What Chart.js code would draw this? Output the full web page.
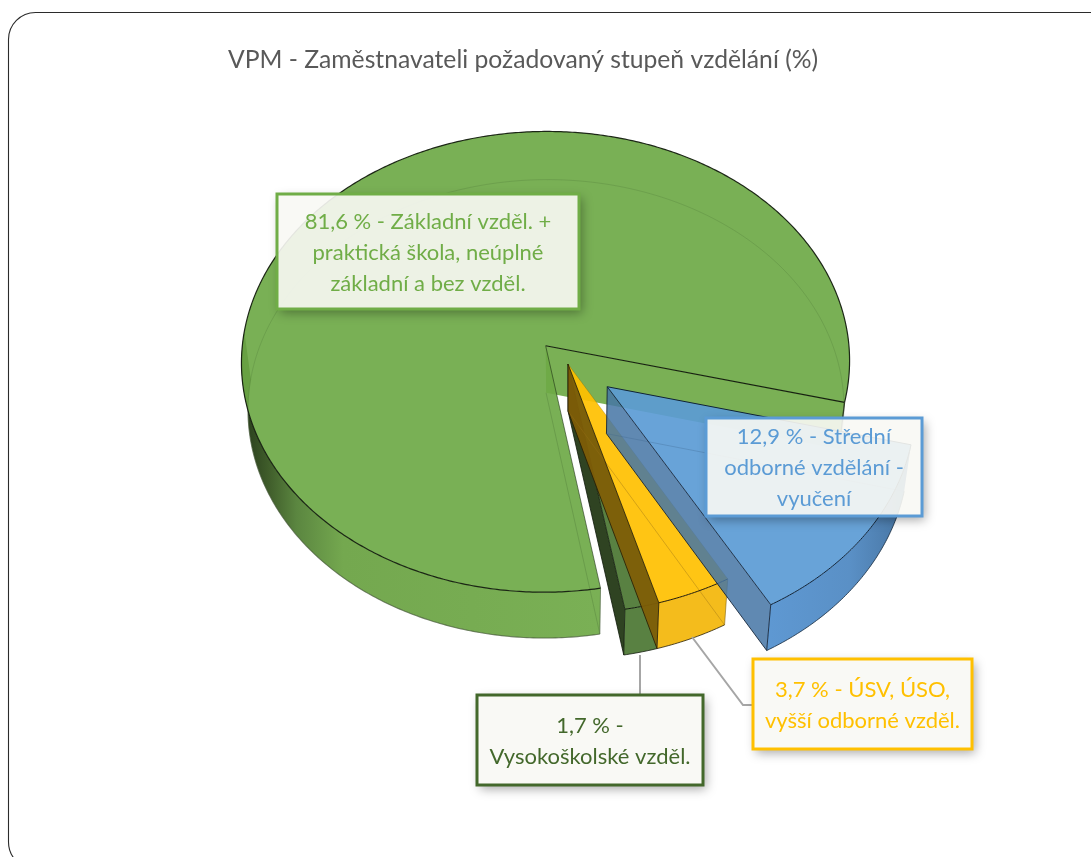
<!DOCTYPE html>
<html><head><meta charset="utf-8">
<style>html,body{margin:0;padding:0;background:#fff;overflow:hidden}#w{width:1091px;height:857px;position:relative}</style>
<script src="https://cdn.jsdelivr.net/npm/chart.js@4"></script>
</head><body><div id="w"><canvas id="c" width="1091" height="857"></canvas></div>
<script>
const chartTitle = 'VPM - Zaměstnavateli požadovaný stupeň vzdělání (%)';
const categories = ['Základní vzděl. + praktická škola, neúplné základní a bez vzděl.','Střední odborné vzdělání - vyučení','ÚSV, ÚSO, vyšší odborné vzděl.','Vysokoškolské vzděl.'];
const values = [81.6, 12.9, 3.7, 1.7];
const explode = [33, 49, 0, 0];
const labelLines = [
  ['81,6 % - Základní vzděl. +','praktická škola, neúplné','základní a bez vzděl.'],
  ['12,9 % - Střední','odborné vzdělání -','vyučení'],
  ['3,7 % - ÚSV, ÚSO,','vyšší odborné vzděl.'],
  ['1,7 % -','Vysokoškolské vzděl.']
];
const sliceColors = ['rgba(110,169,70,.92)','rgba(91,155,213,.92)','rgba(255,192,0,.92)','rgba(80,122,56,.95)'];
const borderColors = ['#70AD47','#5B9BD5','#FFC000','#43682B'];
const boxes = [[277,194,302,115],[706,418,216,98],[753,659,219,90],[477,695,226,90]];
const FONT = 'Lato, Carlito, Calibri, sans-serif';
const K = 0.76, P = 0.00023, R_SHRINK = 0.98, Y_SHRINK = 0.995, DEPTH = 47;

const pie3d = {
  id: 'pie3d',
  beforeDraw(chart) {
    const c = chart.ctx;
    c.save();
    c.fillStyle = '#fff'; c.fillRect(0, 0, chart.width, chart.height);
    c.strokeStyle = '#2b2b2b'; c.lineWidth = 1.1;
    c.beginPath(); c.roundRect(8.5, 12.5, 1200, 856.5, 27); c.stroke();
    c.fillStyle = '#595959'; c.font = '24.7px ' + FONT; c.textAlign = 'left'; c.textBaseline = 'alphabetic';
    c.fillText(chartTitle, 228, 68);
    c.restore();
  },
  beforeDatasetsDraw(chart) {
    const c = chart.ctx, arcs = chart.getDatasetMeta(0).data;
    const ox = arcs[0].x, oy = arcs[0].y;
    const proj = (u, v, bottom) => {
      const f = 1 / (1 - P * v);
      let x = u * f, y = K * v * f;
      if (bottom) { x *= R_SHRINK; y = y * Y_SHRINK + DEPTH; }
      return [ox + x, oy + y];
    };
    const geom = arcs.map(a => {
      const mid = (a.startAngle + a.endAngle) / 2, off = a.options.offset || 0;
      const u0 = off * Math.cos(mid), v0 = off * Math.sin(mid), r = a.outerRadius;
      const pt = (ang, bottom) => proj(u0 + r * Math.cos(ang), v0 + r * Math.sin(ang), bottom);
      const apex = bottom => proj(u0, v0, bottom);
      const rim = (s, e, bottom) => {
        const n = Math.max(2, Math.ceil(Math.abs(e - s) / 0.01)), out = [];
        for (let i = 0; i <= n; i++) out.push(pt(s + (e - s) * i / n, bottom));
        return out;
      };
      return { s: a.startAngle, e: a.endAngle, pt, apex, rim };
    });
    const path = (pts, close) => {
      c.beginPath();
      pts.forEach((p, i) => i ? c.lineTo(p[0], p[1]) : c.moveTo(p[0], p[1]));
      if (close) c.closePath();
    };
    const fill = (pts, col) => { path(pts, true); c.fillStyle = col; c.fill(); };
    const line = (pts, col, w) => { path(pts, false); c.strokeStyle = col; c.lineWidth = w || 1; c.stroke(); };
    const sideFace = (g, a) => [g.apex(false), g.pt(a, false), g.pt(a, true), g.apex(true)];
    const outerFace = (g, s, e) => g.rim(s, e, false).concat(g.rim(s, e, true).reverse());
    const top = g => [g.apex(false)].concat(g.rim(g.s, g.e, false));
    const hGrad = (x0, x1, stops) => {
      const gr = c.createLinearGradient(x0, 0, x1, 0);
      stops.forEach(st => gr.addColorStop(st[0], st[1]));
      return gr;
    };
    c.save(); c.lineJoin = 'round';
    // green
    let g = geom[0];
    const frontS = g.s, frontE = Math.PI * 1.02;
    fill(outerFace(g, frontS, frontE), hGrad(243, 600, [[0,'#283c1c'],[0.07,'#3f5c2a'],[0.15,'#5b8640'],[0.28,'#74a84f'],[1,'#7ab055']]));
    line(g.rim(frontS, frontE, true), 'rgba(70,80,60,.6)', 1.1);
    line([g.pt(frontS, false), g.pt(frontS, true)], 'rgba(70,90,60,.6)', 1);
    fill(sideFace(g, g.e), '#7ab055');
    line([g.pt(g.e, false), g.pt(g.e, true)], '#2a3320', 1.3);
    fill(top(g), sliceColors[0]);
    line(g.rim(g.s, g.e, true), 'rgba(70,110,50,.25)', 1);
    line([g.apex(true), g.pt(g.s, true)], 'rgba(70,110,50,.3)', 1);
    line(g.rim(g.s, g.e, false), 'rgba(20,30,15,.95)', 1.2);
    line([g.apex(false), g.pt(g.e, false)], '#16200f', 1.2);
    line([g.apex(false), g.pt(g.s, false)], 'rgba(30,50,20,.6)', 1);
    // dark green
    g = geom[3];
    fill(sideFace(g, g.e), '#2f4322');
    fill(outerFace(g, g.s, g.e), sliceColors[3]);
    fill(top(g), sliceColors[3]);
    line(sideFace(g, g.e).concat([g.apex(false)]), 'rgba(15,25,10,.8)', 1);
    line(g.rim(g.s, g.e, true), 'rgba(20,30,15,.8)', 1);
    line(g.rim(g.s, g.e, false), '#141c0e', 1);
    // yellow
    g = geom[2];
    fill(sideFace(g, g.e), 'rgba(128,94,6,.93)');
    fill(outerFace(g, g.s, g.e), '#f4bc1c');
    fill(top(g), sliceColors[2]);
    line([g.apex(true), g.pt(g.s, true)], 'rgba(150,110,20,.4)', 1);
    line([g.pt(g.s, false), g.pt(g.s, true)], 'rgba(130,100,20,.6)', 1);
    line([g.apex(false), g.pt(g.e, false), g.pt(g.e, true), g.apex(true), g.apex(false)], 'rgba(40,30,5,.85)', 1);
    line(g.rim(g.s, g.e, true), 'rgba(40,30,5,.8)', 1);
    line(g.rim(g.s, g.e, false), '#221a05', 1);
    line([g.apex(false), g.pt(g.s, false)], 'rgba(90,70,10,.25)', 1);
    // blue
    g = geom[1];
    fill(sideFace(g, g.e), 'rgba(70,118,165,.86)');
    fill(outerFace(g, g.s, g.e), hGrad(770, 915, [[0,'#5e98d2'],[0.55,'#5a90c6'],[1,'#44709c']]));
    fill(top(g), sliceColors[1]);
    line([g.apex(true), g.pt(g.s, true)], 'rgba(60,100,140,.3)', 1);
    line([g.apex(false), g.pt(g.e, false), g.pt(g.e, true), g.apex(true), g.apex(false)], 'rgba(15,30,50,.85)', 1);
    line(g.rim(g.s, g.e, true), 'rgba(20,40,60,.8)', 1);
    line(g.rim(g.s, g.e, false), '#0f2236', 1);
    line([g.apex(false), g.pt(g.s, false)], '#0f2236', 1);
    c.restore();
    return false;
  },
  afterDraw(chart) {
    const c = chart.ctx;
    c.save();
    c.strokeStyle = '#a6a6a6'; c.lineWidth = 2;
    c.beginPath(); c.moveTo(640, 655); c.lineTo(640, 695); c.stroke();
    c.beginPath(); c.moveTo(692, 637); c.lineTo(743, 705); c.lineTo(753, 705); c.stroke();
    boxes.forEach((b, i) => {
      const [x, y, w, h] = b;
      c.save();
      c.beginPath(); c.rect(0, 0, chart.width, chart.height); c.rect(x, y, w, h); c.clip('evenodd');
      c.shadowColor = 'rgba(0,0,0,.34)'; c.shadowBlur = 10; c.shadowOffsetX = 3; c.shadowOffsetY = 4;
      c.fillStyle = '#fff'; c.fillRect(x, y, w, h);
      c.restore();
      c.fillStyle = 'rgba(248,248,244,.91)'; c.fillRect(x, y, w, h);
      c.strokeStyle = borderColors[i]; c.lineWidth = 3; c.strokeRect(x, y, w, h);
      c.fillStyle = borderColors[i]; c.font = '22px ' + FONT; c.textAlign = 'center'; c.textBaseline = 'middle';
      const lh = 31, n = labelLines[i].length, y0 = y + h / 2 + 1 - lh * (n - 1) / 2;
      labelLines[i].forEach((t, j) => c.fillText(t, x + w / 2, y0 + j * lh));
    });
    c.restore();
  }
};

new Chart(document.getElementById('c'), {
  type: 'pie',
  data: { labels: categories, datasets: [{ data: values, backgroundColor: sliceColors, offset: explode, borderWidth: 0, radius: 305 }] },
  options: {
    responsive: false, animation: false, rotation: 170,
    layout: { padding: { left: 45, right: 0, top: 0, bottom: 129 } },
    plugins: { legend: { display: false }, tooltip: { enabled: false }, title: { display: false } }
  },
  plugins: [pie3d]
});
</script></body></html>
